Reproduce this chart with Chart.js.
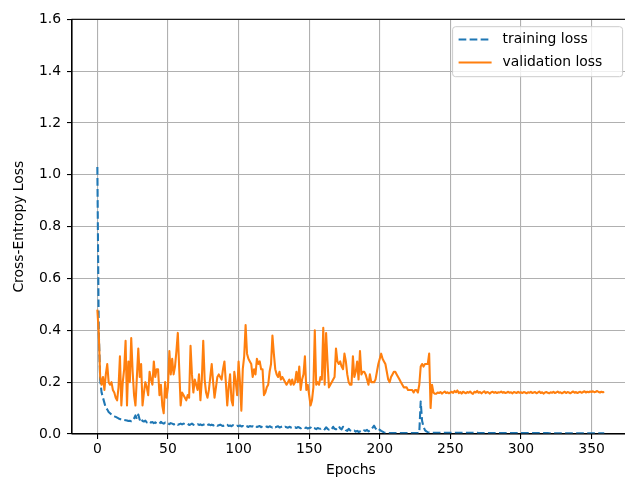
<!DOCTYPE html>
<html>
<head>
<meta charset="utf-8">
<script src="https://cdn.jsdelivr.net/npm/chart.js@4/dist/chart.umd.min.js"></script>
<style>
  html, body { margin: 0; padding: 0; background: #fff; overflow: hidden; }
  #wrap { width: 625px; height: 482px; overflow: hidden; position: relative; }
  #loss-chart { position: absolute; left: 0; top: 0; }
</style>
</head>
<body>
<div id="wrap"><canvas id="loss-chart" width="640" height="482"></canvas></div>
<script>
// x ticks and y ticks of the plot
const xTicks = [0, 50, 100, 150, 200, 250, 300, 350];
const yTicks = [0, 0.2, 0.4, 0.6, 0.8, 1.0, 1.2, 1.4, 1.6];
const yTickLabels = ["0.0", "0.2", "0.4", "0.6", "0.8", "1.0", "1.2", "1.4", "1.6"];

const seriesNames = ["training loss", "validation loss"];

// loss per epoch (360 epochs)
const trainingLoss = [
  1.03, 0.40, 0.21, 0.16, 0.14, 0.12, 0.10, 0.095, 0.085, 0.08,
  0.075, 0.07, 0.068, 0.066, 0.063, 0.06, 0.058, 0.055, 0.056, 0.054,
  0.053, 0.052, 0.05, 0.051, 0.049, 0.05, 0.06, 0.072, 0.058, 0.075,
  0.055, 0.062, 0.05, 0.048, 0.052, 0.045, 0.05, 0.047, 0.044, 0.046,
  0.042, 0.045, 0.041, 0.043, 0.04, 0.047, 0.042, 0.04, 0.044, 0.039,
  0.041, 0.038, 0.042, 0.04, 0.037, 0.039, 0.041, 0.036, 0.038, 0.04,
  0.037, 0.04, 0.038, 0.036, 0.039, 0.035, 0.037, 0.04, 0.036, 0.034,
  0.036, 0.038, 0.035, 0.037, 0.034, 0.036, 0.038, 0.033, 0.035, 0.037,
  0.034, 0.036, 0.033, 0.035, 0.037, 0.032, 0.034, 0.036, 0.033, 0.031,
  0.034, 0.032, 0.035, 0.031, 0.033, 0.03, 0.034, 0.031, 0.029, 0.032,
  0.03, 0.033, 0.029, 0.031, 0.028, 0.032, 0.03, 0.027, 0.031, 0.029,
  0.03, 0.028, 0.032, 0.027, 0.029, 0.031, 0.026, 0.03, 0.028, 0.027,
  0.029, 0.026, 0.03, 0.027, 0.025, 0.029, 0.026, 0.028, 0.03, 0.025,
  0.027, 0.029, 0.025, 0.028, 0.026, 0.024, 0.028, 0.025, 0.027, 0.024,
  0.026, 0.023, 0.027, 0.025, 0.022, 0.026, 0.024, 0.023, 0.025, 0.021,
  0.023, 0.025, 0.02, 0.024, 0.022, 0.019, 0.023, 0.021, 0.02, 0.024,
  0.021, 0.018, 0.026, 0.02, 0.017, 0.022, 0.019, 0.028, 0.02, 0.018,
  0.025, 0.03, 0.022, 0.018, 0.028, 0.024, 0.015, 0.012, 0.02, 0.014,
  0.011, 0.01, 0.013, 0.009, 0.012, 0.008, 0.01, 0.007, 0.009, 0.014,
  0.012, 0.016, 0.01, 0.013, 0.018, 0.025, 0.032, 0.022, 0.015, 0.02,
  0.016, 0.012, 0.009, 0.006, 0.005, 0.005, 0.004, 0.004, 0.004, 0.004,
  0.004, 0.004, 0.004, 0.004, 0.004, 0.004, 0.004, 0.004, 0.004, 0.004,
  0.004, 0.004, 0.004, 0.004, 0.004, 0.004, 0.004, 0.004, 0.005, 0.125,
  0.05, 0.028, 0.015, 0.01, 0.007, 0.006, 0.005, 0.005, 0.005, 0.005,
  0.005, 0.005, 0.005, 0.005, 0.005, 0.005, 0.005, 0.005, 0.005, 0.005,
  0.005, 0.005, 0.005, 0.005, 0.005, 0.005, 0.005, 0.005, 0.005, 0.005,
  0.005, 0.005, 0.005, 0.005, 0.005, 0.005, 0.005, 0.005, 0.005, 0.005,
  0.004, 0.004, 0.004, 0.004, 0.004, 0.004, 0.004, 0.004, 0.004, 0.004,
  0.004, 0.004, 0.004, 0.004, 0.004, 0.004, 0.004, 0.004, 0.004, 0.004,
  0.004, 0.004, 0.004, 0.004, 0.004, 0.004, 0.004, 0.004, 0.004, 0.004,
  0.004, 0.004, 0.004, 0.004, 0.004, 0.004, 0.004, 0.004, 0.004, 0.004,
  0.004, 0.004, 0.004, 0.004, 0.004, 0.004, 0.004, 0.004, 0.004, 0.004,
  0.003, 0.003, 0.003, 0.003, 0.003, 0.003, 0.003, 0.003, 0.003, 0.003,
  0.003, 0.003, 0.003, 0.003, 0.003, 0.003, 0.003, 0.003, 0.003, 0.003,
  0.003, 0.003, 0.003, 0.003, 0.003, 0.003, 0.003, 0.003, 0.003, 0.003,
  0.003, 0.003, 0.003, 0.003, 0.003, 0.003, 0.003, 0.003, 0.003, 0.003
];

const validationLoss = [
  0.48, 0.39, 0.22, 0.19, 0.22, 0.17, 0.23, 0.27, 0.20, 0.19,
  0.20, 0.17, 0.16, 0.14, 0.13, 0.18, 0.30, 0.11, 0.20, 0.25,
  0.36, 0.11, 0.28, 0.20, 0.37, 0.24, 0.15, 0.11, 0.22, 0.33,
  0.22, 0.27, 0.11, 0.16, 0.20, 0.18, 0.15, 0.24, 0.21, 0.19,
  0.28, 0.22, 0.25, 0.25, 0.15, 0.19, 0.11, 0.08, 0.20, 0.14,
  0.18, 0.32, 0.23, 0.29, 0.23, 0.26, 0.32, 0.39, 0.25, 0.11,
  0.16, 0.15, 0.14, 0.13, 0.15, 0.14, 0.34, 0.23, 0.16, 0.21,
  0.19, 0.17, 0.23, 0.13, 0.21, 0.36, 0.21, 0.16, 0.14, 0.17,
  0.22, 0.27, 0.20, 0.14, 0.18, 0.22, 0.23, 0.22, 0.21, 0.25,
  0.28, 0.20, 0.11, 0.18, 0.23, 0.13, 0.11, 0.24, 0.20, 0.15,
  0.28, 0.20, 0.09, 0.25, 0.30, 0.42, 0.31, 0.29, 0.28, 0.27,
  0.22, 0.25, 0.23, 0.29, 0.27, 0.28, 0.25, 0.25, 0.15, 0.16,
  0.18, 0.19, 0.24, 0.27, 0.38, 0.31, 0.25, 0.23, 0.22, 0.24,
  0.21, 0.22, 0.21, 0.20, 0.19, 0.20, 0.21, 0.19, 0.21, 0.19,
  0.20, 0.24, 0.20, 0.26, 0.17, 0.21, 0.23, 0.30, 0.17, 0.19,
  0.15, 0.11, 0.13, 0.18, 0.40, 0.19, 0.20, 0.19, 0.22, 0.21,
  0.41, 0.19, 0.39, 0.28, 0.18, 0.19, 0.20, 0.21, 0.22, 0.33,
  0.28, 0.27, 0.28, 0.26, 0.25, 0.31, 0.28, 0.23, 0.20, 0.19,
  0.19, 0.30, 0.22, 0.24, 0.28, 0.21, 0.32, 0.23, 0.24, 0.24,
  0.23, 0.21, 0.19, 0.23, 0.20, 0.20, 0.20, 0.21, 0.24, 0.27,
  0.29, 0.31, 0.29, 0.28, 0.27, 0.24, 0.21, 0.20, 0.22, 0.23,
  0.24, 0.24, 0.23, 0.22, 0.21, 0.20, 0.19, 0.18, 0.18, 0.18,
  0.17, 0.17, 0.17, 0.17, 0.16, 0.17, 0.17, 0.16, 0.19, 0.26,
  0.27, 0.26, 0.27, 0.27, 0.27, 0.31, 0.10, 0.19, 0.16, 0.155,
  0.155, 0.16, 0.158, 0.162, 0.156, 0.16, 0.164, 0.158, 0.161, 0.157,
  0.16, 0.163, 0.159, 0.166, 0.161, 0.168, 0.158, 0.162, 0.156, 0.163,
  0.16, 0.157, 0.162, 0.159, 0.164, 0.158, 0.155, 0.163, 0.16, 0.166,
  0.159, 0.162, 0.157, 0.161, 0.165, 0.158, 0.162, 0.16, 0.156, 0.161,
  0.163, 0.159, 0.162, 0.158, 0.161, 0.16, 0.164, 0.159, 0.162, 0.158,
  0.16, 0.163, 0.159, 0.161, 0.157, 0.162, 0.16, 0.158, 0.163, 0.159,
  0.161, 0.158, 0.162, 0.16, 0.157, 0.161, 0.159, 0.163, 0.158, 0.16,
  0.162, 0.157, 0.16, 0.164, 0.158, 0.161, 0.156, 0.16, 0.162, 0.159,
  0.157, 0.161, 0.159, 0.163, 0.158, 0.16, 0.164, 0.159, 0.161, 0.157,
  0.16, 0.163, 0.158, 0.162, 0.16, 0.157, 0.161, 0.164, 0.159, 0.162,
  0.158, 0.161, 0.163, 0.159, 0.162, 0.165, 0.16, 0.163, 0.161, 0.164,
  0.162, 0.165, 0.161, 0.163, 0.166, 0.162, 0.16, 0.163, 0.161, 0.162
];

const epochs = trainingLoss.map((_, i) => i);

const FONT = { family: "'DejaVu Sans', sans-serif", size: 13.9 };
const BLUE = "#1f77b4";
const ORANGE = "#ff7f0e";
const GRID = "#b0b0b0";
const LINE_W = 2.08;
const DASH = [7.7, 3.33];

// top/right spines and the legend box inside the plot
const frameAndLegend = {
  id: "frameAndLegend",
  afterDatasetsDraw(chart) {
    const ctx = chart.ctx;
    const a = chart.chartArea;
    ctx.save();
    ctx.strokeStyle = "#000";
    ctx.lineWidth = 1.1;
    ctx.strokeRect(a.left, a.top, a.right - a.left, a.bottom - a.top);

    // legend
    const right = a.right - 7;
    const top = a.top + 7.4;
    const w = 170, h = 50;
    const left = right - w;
    ctx.beginPath();
    ctx.roundRect(left, top, w, h, 3);
    ctx.fillStyle = "rgba(255,255,255,0.8)";
    ctx.fill();
    ctx.strokeStyle = "#cccccc";
    ctx.lineWidth = 1;
    ctx.stroke();

    const rows = [
      { label: seriesNames[0], color: BLUE, dash: DASH },
      { label: seriesNames[1], color: ORANGE, dash: [] }
    ];
    ctx.font = FONT.size + "px " + FONT.family;
    ctx.textBaseline = "middle";
    ctx.textAlign = "left";
    rows.forEach((r, i) => {
      const y = top + 12.8 + i * 23;
      ctx.beginPath();
      ctx.setLineDash(r.dash);
      ctx.strokeStyle = r.color;
      ctx.lineWidth = LINE_W;
      ctx.moveTo(left + 6, y);
      ctx.lineTo(left + 39, y);
      ctx.stroke();
      ctx.setLineDash([]);
      ctx.fillStyle = "#000";
      ctx.fillText(r.label, left + 50, y);
    });
    ctx.restore();
  }
};

const ctx = document.getElementById("loss-chart").getContext("2d");

new Chart(ctx, {
  type: "line",
  data: {
    datasets: [
      {
        label: seriesNames[0],
        data: trainingLoss.map((v, i) => ({ x: epochs[i], y: v })),
        borderColor: BLUE,
        borderWidth: LINE_W,
        borderDash: DASH,
        borderJoinStyle: "round",
        pointRadius: 0,
        fill: false,
        tension: 0,
        order: 1
      },
      {
        label: seriesNames[1],
        data: validationLoss.map((v, i) => ({ x: epochs[i], y: v })),
        borderColor: ORANGE,
        borderWidth: LINE_W,
        borderJoinStyle: "round",
        pointRadius: 0,
        fill: false,
        tension: 0,
        order: 0
      }
    ]
  },
  options: {
    responsive: false,
    animation: false,
    events: [],
    layout: { padding: { left: 0, top: 19.3, right: 10.4, bottom: 0 } },
    plugins: {
      legend: { display: false },
      tooltip: { enabled: false }
    },
    scales: {
      x: {
        type: "linear",
        min: -17.95,
        max: 376.95,
        afterFit: (scale) => { scale.height = 48; },
        afterBuildTicks: (scale) => { scale.ticks = xTicks.map(v => ({ value: v })); },
        grid: { color: GRID, lineWidth: 1.1, tickLength: 5, tickColor: "#000", tickWidth: 1.1 },
        border: { display: true, color: "#000", width: 1.1 },
        ticks: { color: "#000", font: FONT, padding: 2, maxRotation: 0, callback: (v) => String(v) },
        title: { display: true, text: "Epochs", color: "#000", font: FONT, padding: { top: 0, bottom: 3 } }
      },
      y: {
        min: 0,
        max: 1.6,
        afterFit: (scale) => { scale.width = 72; },
        afterBuildTicks: (scale) => { scale.ticks = yTicks.map(v => ({ value: v })); },
        grid: { color: GRID, lineWidth: 1.1, tickLength: 5, tickColor: "#000", tickWidth: 1.1 },
        border: { display: true, color: "#000", width: 1.1 },
        ticks: { color: "#000", font: FONT, padding: 6, callback: (v, i) => yTickLabels[i] },
        title: { display: true, text: "Cross-Entropy Loss", color: "#000", font: FONT, padding: { top: 11, bottom: 0 } }
      }
    }
  },
  plugins: [frameAndLegend]
});
</script>
</body>
</html>
